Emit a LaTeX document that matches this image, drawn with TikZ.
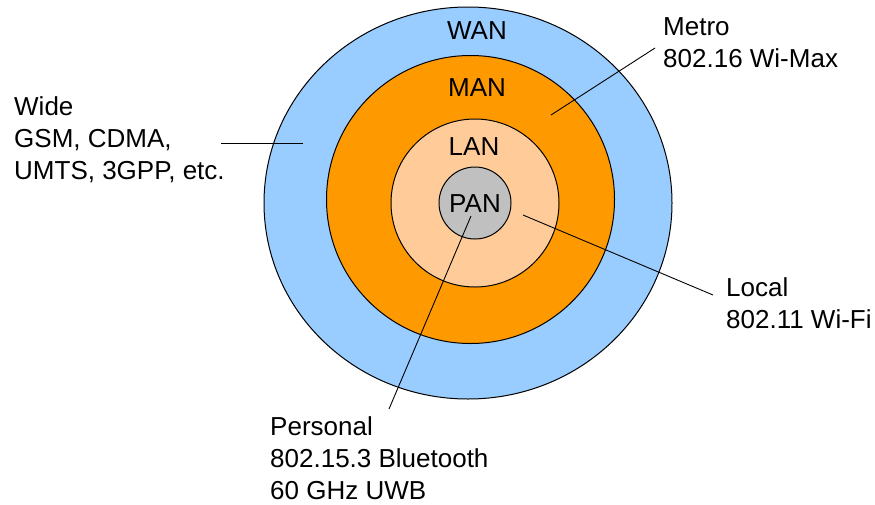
\documentclass[tikz,border=0pt]{standalone}
\usepackage{fontspec}
\setmainfont{Liberation Sans}
\definecolor{wanblue}{HTML}{99CCFF}
\definecolor{manorange}{HTML}{FF9900}
\definecolor{lanpeach}{HTML}{FFCC99}
\definecolor{pangrey}{HTML}{C0C0C0}
\begin{document}
\begin{tikzpicture}[x=1pt, y=-1pt,
  ring/.style={draw=black, line width=1pt},
  netname/.style={inner sep=0pt, font=\fontsize{26}{32}\selectfont},
  caption/.style={inner sep=0pt, anchor=base west, align=left, font=\fontsize{26}{32}\selectfont},
  leader/.style={draw=black, line width=0.9pt}]
  \useasboundingbox (0,0) rectangle (875,504);

  % nested coverage areas, widest first
  \draw[ring, fill=wanblue]   (468,203) ellipse [x radius=204pt, y radius=196pt];
  \draw[ring, fill=manorange] (470.5,199.5) circle [radius=144pt];
  \draw[ring, fill=lanpeach]  (475,203) circle [radius=84pt];
  \draw[ring, fill=pangrey]   (475,203) circle [radius=36pt];

  % area names
  \node[netname] (wan) at (477,31)    {WAN};
  \node[netname] (man) at (477,87.5)  {MAN};
  \node[netname] (lan) at (474,146.5) {LAN};
  \node[netname] (pan) at (475,203.5) {PAN};

  % descriptive captions (anchored at the baseline of their last line)
  \node[caption] (wide)     at (14,179)  {Wide\\GSM, CDMA,\\UMTS, 3GPP, etc.};
  \node[caption] (metro)    at (663,67)  {Metro\\802.16 Wi-Max};
  \node[caption] (local)    at (726,328) {Local\\802.11 Wi-Fi};
  \node[caption] (personal) at (270,499) {Personal\\802.15.3 Bluetooth\\60 GHz UWB};

  % leader line end points
  \coordinate (wideA)  at (221,143);
  \coordinate (wideB)  at (303,143);
  \coordinate (metroA) at (655,48);
  \coordinate (metroB) at (551,115);
  \coordinate (localA) at (713,295);
  \coordinate (localB) at (523,215);
  \coordinate (persA)  at (389,409);
  \coordinate (persB)  at (471,216);

  \draw[leader] (wideA)  -- (wideB);
  \draw[leader] (metroA) -- (metroB);
  \draw[leader] (localA) -- (localB);
  \draw[leader] (persA)  -- (persB);
\end{tikzpicture}
\end{document}
